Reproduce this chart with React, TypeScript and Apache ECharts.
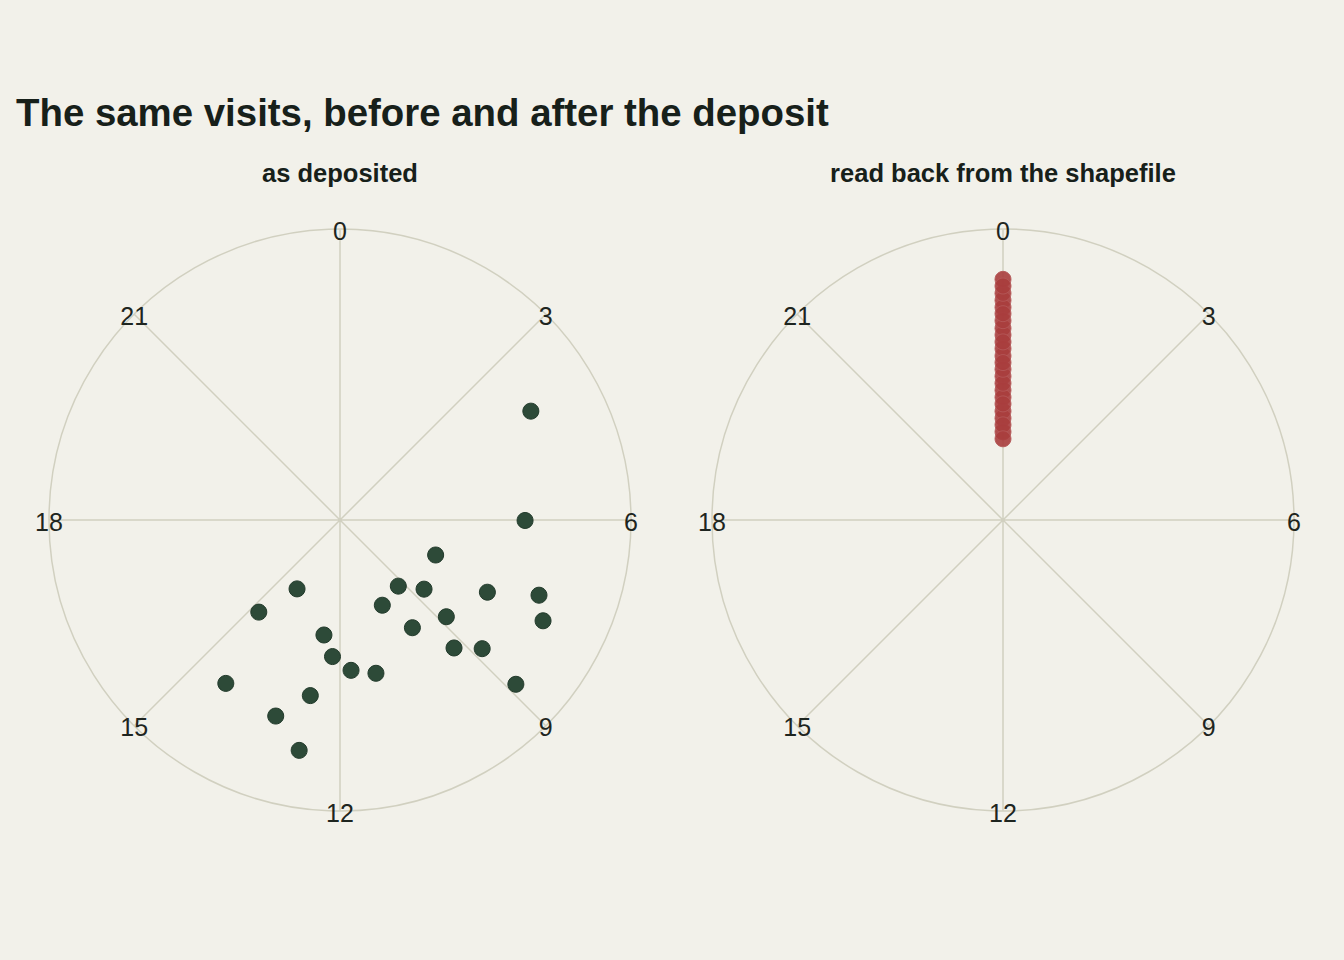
import React, { useEffect, useRef } from "react";
import * as echarts from "echarts";

// ---- data ----
const hourTicks = [0, 3, 6, 9, 12, 15, 18, 21];
// visit hour as deposited (0-24, clockwise from top)
const depositedHours = [
  4.02, 6.01, 7.34, 9.24, 8.63, 7.74, 7.38, 7.76, 10.24, 8.82, 9.74, 9.22,
  8.81, 8.87, 14.13, 14.76, 12.53, 12.21, 11.72, 11.12, 14.33, 12.64, 13.21, 12.67,
];
// radial value of each visit (0-100)
const visitRadius = [
  75.5, 63.6, 35.0, 30.3, 37.4, 56.4, 73.1, 77.9, 32.7, 49.4, 44.6, 58.9,
  65.9, 82.7, 27.9, 42.2, 39.9, 47.0, 51.8, 54.1, 68.5, 61.2, 70.9, 80.4,
];
// the same visits read back from the shapefile: hour collapsed to 0
const readBackHours = [
  0, 0, 0, 0, 0, 0, 0, 0, 0, 0, 0, 0,
  0, 0, 0, 0, 0, 0, 0, 0, 0, 0, 0, 0,
];
const radiusMax = 100;

const titleText = "The same visits, before and after the deposit";
const panelTitles = ["as deposited", "read back from the shapefile"];

const BG = "#f2f1ea";
const GRID = "#d1d0c0";
const INK = "#17201a";
const LABEL = "#1e2520";
const FONT = "'Liberation Sans', Arial, Helvetica, sans-serif";

export default function App() {
  const ref = useRef<HTMLDivElement>(null);

  useEffect(() => {
    document.body.style.margin = "0";
    document.body.style.background = BG;
    const chart = echarts.init(ref.current!, undefined, { renderer: "svg" });

    const centers = [
      [340, 520],
      [1003, 520],
    ];
    const R = 291;

    const angleAxis = centers.map((_, i) => ({
      polarIndex: i,
      type: "value",
      min: 0,
      max: 24,
      interval: 3,
      startAngle: 90,
      clockwise: true,
      axisLine: { show: true, lineStyle: { color: GRID, width: 1.5 } },
      axisTick: { show: false },
      axisLabel: { show: false },
      splitLine: { show: true, lineStyle: { color: GRID, width: 1.5 } },
    }));
    const radiusAxis = centers.map((_, i) => ({
      polarIndex: i,
      type: "value",
      min: 0,
      max: radiusMax,
      axisLine: { show: false },
      axisTick: { show: false },
      axisLabel: { show: false },
      splitLine: { show: false },
    }));

    const labelSeries = centers.map((_, i) => ({
      type: "scatter",
      coordinateSystem: "polar",
      polarIndex: i,
      symbolSize: 1,
      itemStyle: { color: "rgba(0,0,0,0)", opacity: 1 },
      silent: true,
      z: 5,
      data: hourTicks.map((h) => [radiusMax, h]),
      label: {
        show: true,
        position: "inside",
        offset: [0, 1.5],
        formatter: (p: any) => String(p.value[1]),
        fontSize: 25,
        fontFamily: FONT,
        color: LABEL,
        opacity: 1,
      },
    }));

    chart.setOption({
      animation: false,
      backgroundColor: BG,
      textStyle: { fontFamily: FONT },
      polar: centers.map((c) => ({ center: c, radius: R })),
      angleAxis,
      radiusAxis,
      graphic: [
        {
          type: "text",
          x: 16,
          y: 112,
          style: {
            text: titleText,
            font: `bold 38.4px ${FONT}`,
            fill: INK,
            align: "left",
            verticalAlign: "middle",
          },
        },
        ...panelTitles.map((t, i) => ({
          type: "text",
          x: centers[i][0],
          y: 173,
          style: {
            text: t,
            font: `bold 25.5px ${FONT}`,
            fill: INK,
            align: "center",
            verticalAlign: "middle",
          },
        })),
      ],
      series: [
        {
          type: "scatter",
          coordinateSystem: "polar",
          polarIndex: 0,
          symbolSize: 16,
          z: 3,
          itemStyle: { color: "#2d4a38", borderColor: "#223a2b", borderWidth: 1, opacity: 1 },
          data: visitRadius.map((r, i) => [r, depositedHours[i]]),
        },
        {
          type: "scatter",
          coordinateSystem: "polar",
          polarIndex: 1,
          symbolSize: 16,
          z: 3,
          itemStyle: {
            color: "#a83d3d",
            opacity: 0.9,
            borderColor: "#b45858",
            borderWidth: 1,
          },
          data: visitRadius.map((r, i) => [r, readBackHours[i]]),
        },
        ...labelSeries,
      ],
    });

    return () => chart.dispose();
  }, []);

  return <div ref={ref} style={{ width: 1344, height: 960, background: BG }} />;
}
